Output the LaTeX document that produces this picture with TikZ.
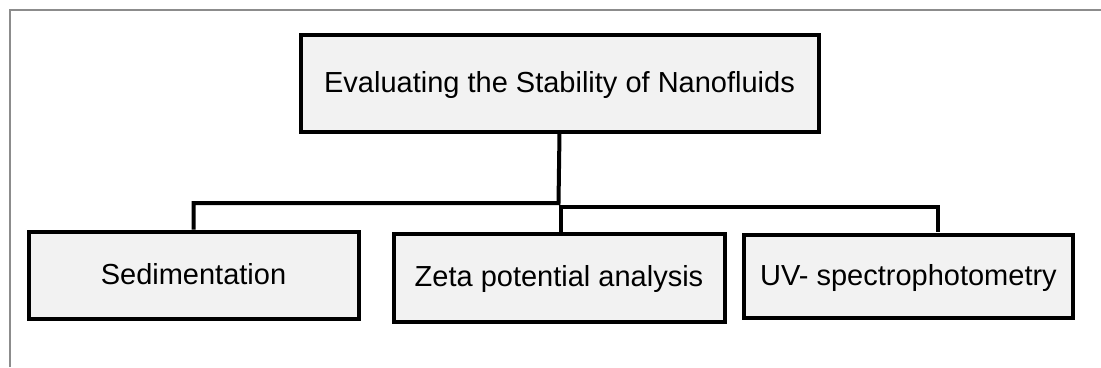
\documentclass[tikz,border=0pt]{standalone}
\usepackage{fontspec}
\setmainfont{Liberation Sans}
\usetikzlibrary{positioning}

\definecolor{boxfill}{HTML}{F2F2F2}
\definecolor{framegray}{HTML}{8C8C8C}

\tikzset{
	methodbox/.style={draw=black, fill=boxfill, line width=4pt, inner sep=0pt,
		text height=21pt, text depth=3pt, font=\fontsize{29}{34}\selectfont},
	branch/.style={line width=4pt}
}

\begin{document}
\begin{tikzpicture}[x=1pt, y=-1pt]
		\useasboundingbox (0,0) rectangle (1101,367);
		\draw[framegray, line width=2pt] (10,367) -- (10,10) -- (1101,10);
		
		\node[methodbox, minimum width=518pt, minimum height=97pt] (stability) at (559.5,83) {Evaluating the Stability of Nanofluids};
		\node[methodbox, minimum width=330pt, minimum height=87pt] (sed) at (193.5,275) {Sedimentation};
		\node[methodbox, minimum width=331pt, minimum height=88pt] (zeta) at (559,277.5) {Zeta potential analysis};
		\node[methodbox, minimum width=329pt, minimum height=83pt] (uv) at (908.5,276) {UV- spectrophotometry};
		
		\coordinate (jl) at (558.5,203);
		\coordinate (jr) at (560.5,206.5);
		\coordinate (uvtop) at (938,232);
		
		\draw[branch] (stability.south) -- (jl) -| (sed.north);
		\draw[branch] (jl |- jr) -- (jr) -| (uvtop);
		\draw[branch] (jr) -- (jr |- zeta.north);
	\end{tikzpicture}
\end{document}
